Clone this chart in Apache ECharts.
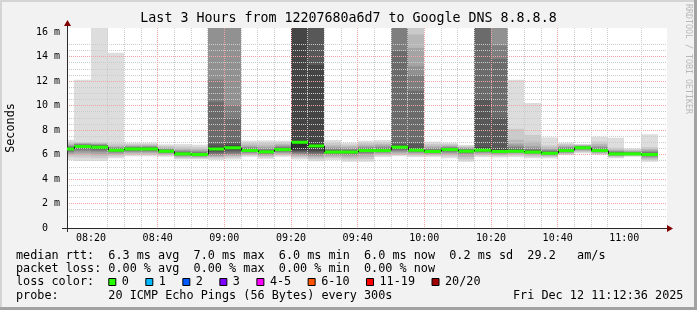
<!DOCTYPE html>
<html><head><meta charset="utf-8">
<script src="https://cdn.jsdelivr.net/npm/echarts@6/dist/echarts.min.js"></script>
<style>html,body{margin:0;padding:0;background:#f2f2f2}#c{width:697px;height:310px}</style>
</head><body><div id="c"></div>
<script>
// ---------------- data (ms) ----------------
// end time of each 5-minute step
const intervalEnd = ['08:15','08:20','08:25','08:30','08:35','08:40','08:45','08:50','08:55','09:00',
  '09:05','09:10','09:15','09:20','09:25','09:30','09:35','09:40','09:45','09:50','09:55','10:00',
  '10:05','10:10','10:15','10:20','10:25','10:30','10:35','10:40','10:45','10:50','10:55','11:00','11:05','11:10'];
// median rtt per step
const median = [6.45,6.65,6.6,6.35,6.45,6.45,6.27,6.05,6.0,6.45,6.55,6.33,6.22,6.4,7.0,6.7,6.2,6.2,6.32,6.32,
  6.6,6.35,6.25,6.4,6.27,6.35,6.25,6.27,6.2,6.1,6.32,6.55,6.32,6.05,6.05,6.0];
// the 20 sorted ping times of each step (smoke)
const s0815 = [5.55,5.8,5.95,6.05,6.15,6.22,6.3,6.35,6.4,6.43,6.47,6.5,6.55,6.6,6.65,6.7,6.78,6.85,7.0,7.2];
const s0820 = [5.47,5.75,5.95,6.1,6.25,6.35,6.45,6.52,6.58,6.63,6.67,6.7,6.74,6.78,6.82,6.86,6.9,6.95,7.0,12.1];
const s0825 = [5.47,5.7,5.9,6.05,6.2,6.3,6.4,6.48,6.54,6.58,6.62,6.66,6.7,6.74,6.78,6.82,6.86,6.92,7.0,17];
const s0830 = [5.7,5.85,5.97,6.07,6.15,6.2,6.25,6.29,6.32,6.34,6.37,6.4,6.44,6.48,6.52,6.57,6.63,6.72,6.9,14.3];
const s0835 = [5.85,5.98,6.08,6.16,6.23,6.29,6.34,6.38,6.41,6.44,6.47,6.5,6.53,6.56,6.6,6.64,6.69,6.76,6.85,6.96];
const s0840 = [5.85,5.98,6.08,6.16,6.23,6.29,6.34,6.38,6.41,6.44,6.47,6.5,6.53,6.57,6.61,6.65,6.7,6.77,6.86,6.96];
const s0845 = [5.82,5.92,6.0,6.07,6.12,6.16,6.2,6.23,6.25,6.26,6.28,6.31,6.34,6.37,6.41,6.45,6.5,6.58,6.7,6.83];
const s0850 = [5.6,5.7,5.78,5.85,5.9,5.95,5.98,6.01,6.03,6.04,6.06,6.09,6.13,6.18,6.23,6.3,6.38,6.48,6.65,6.85];
const s0855 = [5.6,5.68,5.75,5.81,5.86,5.9,5.93,5.96,5.98,5.99,6.01,6.04,6.08,6.13,6.19,6.26,6.34,6.45,6.6,6.8];
const s0900 = [5.55,5.7,5.8,5.88,5.95,6.02,6.1,6.2,6.3,6.4,6.5,6.65,6.85,10.3,12.1,17,17,17,17,17];
const s0905 = [5.6,5.75,5.85,5.93,6.0,6.08,6.18,6.3,6.42,6.52,6.6,6.75,6.95,9.0,10.0,17,17,17,17,17];
const s0910 = [5.82,5.92,6.0,6.08,6.14,6.2,6.25,6.28,6.3,6.32,6.35,6.38,6.42,6.47,6.53,6.6,6.68,6.8,6.95,7.13];
const s0915 = [5.65,5.78,5.88,5.96,6.03,6.09,6.14,6.17,6.2,6.21,6.24,6.27,6.31,6.36,6.42,6.5,6.6,6.75,6.95,7.15];
const s0920 = [5.82,5.93,6.03,6.11,6.18,6.24,6.29,6.33,6.37,6.39,6.42,6.45,6.49,6.54,6.6,6.67,6.75,6.85,6.98,7.13];
const s0925 = [5.6,5.75,5.85,5.95,6.03,6.1,6.18,6.25,6.32,6.4,7.05,17,17,17,17,17,17,17,17,17];
const s0930 = [5.45,5.62,5.75,5.85,5.95,6.03,6.1,6.18,6.3,6.55,6.85,13.3,17,17,17,17,17,17,17,17];
const s0935 = [5.55,5.7,5.82,5.92,6.0,6.06,6.11,6.15,6.18,6.19,6.22,6.25,6.3,6.36,6.43,6.52,6.62,6.76,6.95,7.18];
const s0940 = [5.41,5.6,5.75,5.87,5.97,6.05,6.11,6.15,6.18,6.19,6.22,6.25,6.29,6.34,6.4,6.47,6.56,6.67,6.8,6.96];
const s0945 = [5.41,5.62,5.8,5.95,6.06,6.14,6.2,6.25,6.29,6.31,6.34,6.37,6.41,6.46,6.52,6.59,6.68,6.8,6.95,7.13];
const s0950 = [5.8,5.92,6.02,6.1,6.16,6.21,6.25,6.28,6.3,6.31,6.34,6.37,6.42,6.48,6.55,6.63,6.73,6.85,7.0,7.18];
const s0955 = [5.85,5.97,6.07,6.16,6.24,6.32,6.4,6.47,6.53,6.58,6.63,6.72,6.85,14.45,17,17,17,17,17,17];
const s1000 = [5.8,5.92,6.02,6.1,6.17,6.22,6.27,6.3,6.32,6.34,6.37,6.5,6.9,11.2,12.5,13.2,14.7,15.8,17,17];
const s1005 = [5.8,5.9,5.98,6.05,6.11,6.15,6.19,6.21,6.23,6.24,6.26,6.29,6.33,6.38,6.44,6.51,6.6,6.72,6.87,7.05];
const s1010 = [5.7,5.85,5.98,6.08,6.16,6.23,6.29,6.33,6.37,6.39,6.42,6.45,6.48,6.52,6.56,6.61,6.67,6.75,6.85,6.96];
const s1015 = [5.41,5.6,5.78,5.93,6.05,6.13,6.19,6.23,6.25,6.26,6.29,6.32,6.35,6.39,6.43,6.48,6.54,6.6,6.68,6.78];
const s1020 = [5.8,5.92,6.02,6.1,6.16,6.21,6.25,6.29,6.32,6.34,6.4,6.6,10.5,17,17,17,17,17,17,17];
const s1025 = [5.75,5.87,5.97,6.05,6.11,6.16,6.2,6.22,6.24,6.25,6.3,6.5,9.0,13.8,14.9,17,17,17,17,17];
const s1030 = [5.8,5.92,6.02,6.1,6.16,6.2,6.23,6.25,6.26,6.27,6.3,6.35,6.42,6.5,6.6,6.72,6.88,7.2,8.1,12.1];
const s1035 = [5.69,5.82,5.93,6.01,6.07,6.12,6.15,6.17,6.19,6.2,6.22,6.26,6.31,6.38,6.46,6.56,6.7,7.05,7.6,10.2];
const s1040 = [5.69,5.8,5.88,5.94,5.99,6.03,6.06,6.08,6.09,6.1,6.12,6.15,6.19,6.24,6.3,6.37,6.46,6.58,6.75,7.4];
const s1045 = [5.95,6.02,6.08,6.13,6.18,6.22,6.25,6.28,6.3,6.31,6.34,6.37,6.41,6.46,6.52,6.58,6.65,6.74,6.85,6.96];
const s1050 = [6.1,6.2,6.28,6.35,6.41,6.45,6.49,6.51,6.53,6.54,6.56,6.58,6.6,6.62,6.65,6.68,6.72,6.76,6.8,6.86];
const s1055 = [5.96,6.04,6.1,6.16,6.2,6.24,6.27,6.29,6.3,6.31,6.33,6.36,6.4,6.45,6.52,6.6,6.7,6.85,7.05,7.45];
const s1100 = [5.69,5.78,5.85,5.9,5.94,5.98,6.0,6.02,6.03,6.04,6.06,6.09,6.13,6.18,6.22,6.26,6.32,6.4,6.55,7.37];
const s1105 = [5.82,5.88,5.92,5.96,5.99,6.01,6.02,6.03,6.04,6.04,6.06,6.08,6.1,6.13,6.17,6.21,6.26,6.32,6.4,6.5];
const s1110 = [5.41,5.55,5.66,5.75,5.82,5.88,5.93,5.96,5.98,5.99,6.01,6.04,6.08,6.14,6.2,6.27,6.35,6.45,6.6,7.65];

const xTickLabels = ['08:20','08:40','09:00','09:20','09:40','10:00','10:20','10:40','11:00'];
const yTickValues = [0,2,4,6,8,10,12,14,16];
const rttStats  = ['6.3 ms avg','7.0 ms max','6.0 ms min','6.0 ms now','0.2 ms sd','29.2   am/s'];
const lossStats = ['0.00 % avg','0.00 % max','0.00 % min','0.00 % now'];
const lossLabels = ['0','1','2','3','4-5','6-10','11-19','20/20'];
const lossColors = ['#26ff00','#00b8ff','#0059ff','#7e00ff','#ff00ff','#ff5500','#ff0000','#a10000'];
const titleText = 'Last 3 Hours from 12207680a6d7 to Google DNS 8.8.8.8';
const probeText = '20 ICMP Echo Pings (56 Bytes) every 300s';
const stampText = 'Fri Dec 12 11:12:36 2025';

// ---------------- build ----------------
const smoke = [s0815,s0820,s0825,s0830,s0835,s0840,s0845,s0850,s0855,s0900,s0905,s0910,s0915,s0920,
  s0925,s0930,s0935,s0940,s0945,s0950,s0955,s1000,s1005,s1010,s1015,s1020,s1025,s1030,s1035,s1040,
  s1045,s1050,s1055,s1100,s1105,s1110];
function toMin(s){const p=s.split(':');return (+p[0])*60+(+p[1]);}
function fmt(v){const h=Math.floor(v/60),m=Math.round(v-h*60);return String(h).padStart(2,'0')+':'+String(m).padStart(2,'0');}
const xMin = toMin('08:12')+0.8, xMax = xMin+180, yMax = 16.33;
const STEP = 5;
const majorX = xTickLabels.map(toMin);
const minorX = [];
for (let t = toMin(intervalEnd[0]); t <= toMin(intervalEnd[intervalEnd.length-1]); t += STEP) if (majorX.indexOf(t) < 0) minorX.push(t);
const minorY = [];
for (let v = 0.5; v <= 16; v += 0.5) if (yTickValues.indexOf(v) < 0) minorY.push(v);

const smokeData = intervalEnd.map((t,i) => [toMin(t)-STEP, toMin(t)].concat(smoke[i]));
const medData = intervalEnd.map((t,i) => [toMin(t)-STEP, toMin(t), median[i], i>0 ? median[i-1] : -1]);

const FONT = '"DejaVu Sans Mono", "Liberation Mono", monospace';
const chart = echarts.init(document.getElementById('c'), null, {renderer:'canvas'});

function renderSmoke(params, api) {
  const cs = params.coordSys;
  const left = Math.max(Math.round(api.coord([api.value(0), 0])[0]), cs.x);
  const right = Math.min(Math.round(api.coord([api.value(1), 0])[0]), cs.x + cs.width);
  const children = [];
  for (let k = 1; k <= 10; k++) {
    const lo = api.value(1 + k), hi = api.value(22 - k);
    const yLo = api.coord([0, Math.min(lo, yMax)])[1];
    const yHi = api.coord([0, Math.min(hi, yMax)])[1];
    const g = Math.floor(190 / 10 * (10 - k)) + 50;
    children.push({type:'rect', shape:{x:left, y:yHi, width:right-left, height:Math.max(yLo-yHi,0)},
      style:{fill:'rgb('+g+','+g+','+g+')'}});
  }
  return {type:'group', children};
}
function renderMedian(params, api) {
  const cs = params.coordSys;
  const left = Math.max(Math.round(api.coord([api.value(0), 0])[0]), cs.x);
  const right = Math.min(Math.round(api.coord([api.value(1), 0])[0]), cs.x + cs.width);
  const y = api.coord([0, api.value(2)])[1];
  const children = [{type:'rect', shape:{x:left, y:y-1.5, width:right-left, height:3}, style:{fill:lossColors[0]}}];
  const prev = api.value(3);
  if (prev > 0) {
    const yp = api.coord([0, prev])[1];
    if (Math.abs(yp - y) > 0.5) children.push({type:'line', shape:{x1:left+0.5, y1:yp, x2:left+0.5, y2:y},
      style:{stroke:'#202020', lineWidth:1}});
  }
  return {type:'group', children};
}

// legend boxes for loss colours
const legendGraphics = [];
let lx = 108.3;
lossLabels.forEach((lab, i) => {
  legendGraphics.push({type:'rect', shape:{x:lx+0.5, y:278.5, width:7, height:7}, style:{fill:lossColors[i], stroke:'#000', lineWidth:1}});
  legendGraphics.push({type:'text', x:lx+13.5, y:282, style:{text:lab, font:'11.8px '+FONT, fill:'#000', verticalAlign:'middle', align:'left'}});
  lx += 29.9 + lab.length * 7.12;
});

const textLine = (txt, x, y, align) => ({type:'text', x, y, style:{text:txt, font:'11.8px '+FONT, fill:'#000', verticalAlign:'middle', align:align||'left'}});

const option = {
  animation: false,
  backgroundColor: '#f2f2f2',
  title: {text: titleText, left: 'center', top: 12, padding: 0,
    textStyle: {fontFamily: FONT, fontSize: 13.3, fontWeight: 'normal', color: '#000'}},
  grid: {left: 67, right: 30, top: 28, bottom: 82, show: true, backgroundColor: '#fff', borderWidth: 0,
    outerBoundsMode: 'none', containLabel: false},
  xAxis: [
    {type:'value', min:xMin, max:xMax, position:'bottom', z:5,
      axisLine:{show:false}, axisLabel:{show:false},
      axisTick:{show:false, customValues:minorX},
      splitLine:{show:true, showMinLine:false, showMaxLine:false, lineStyle:{color:'#cbcbcb', width:1, type:[1,1]}}},
    {type:'value', min:xMin, max:xMax, position:'bottom', z:6,
      axisLine:{show:true, onZero:false, lineStyle:{color:'#2a2a2a', width:1}},
      axisTick:{show:false, customValues:majorX},
      axisLabel:{customValues:majorX, formatter:fmt, fontFamily:FONT, fontSize:10, color:'#000', margin:5},
      splitLine:{show:true, showMinLine:false, showMaxLine:false, lineStyle:{color:'#f0a3a3', width:1, type:[1,1]}}}
  ],
  yAxis: [
    {type:'value', min:0, max:yMax, position:'left', z:5,
      axisLine:{show:false}, axisLabel:{show:false},
      axisTick:{show:false, customValues:minorY},
      splitLine:{show:true, showMinLine:false, showMaxLine:false, lineStyle:{color:'#cbcbcb', width:1, type:[1,1]}}},
    {type:'value', min:0, max:yMax, position:'left', z:6,
      name:'Seconds', nameLocation:'middle', nameGap:50,
      nameTextStyle:{fontFamily:FONT, fontSize:11.8, color:'#000'},
      axisLine:{show:true, onZero:false, lineStyle:{color:'#2a2a2a', width:1}},
      axisTick:{show:false, customValues:yTickValues},
      axisLabel:{customValues:yTickValues, formatter:v => v === 0 ? '0  ' : v + ' m', fontFamily:FONT, fontSize:10, color:'#000', margin:7},
      splitLine:{show:true, showMinLine:false, showMaxLine:false, lineStyle:{color:'#f0a3a3', width:1, type:[1,1]}}}
  ],
  series: [
    {type:'custom', name:'smoke', xAxisIndex:0, yAxisIndex:0, z:2, silent:true,
      encode:{x:[0,1], y:[2]}, renderItem:renderSmoke, data:smokeData},
    {type:'custom', name:'median', xAxisIndex:0, yAxisIndex:0, z:10, silent:true,
      encode:{x:[0,1], y:[2]}, renderItem:renderMedian, data:medData}
  ],
  graphic: [
    // frame shading
    {type:'rect', shape:{x:0, y:0, width:697, height:2}, style:{fill:'#d4d4d4'}, silent:true},
    {type:'rect', shape:{x:0, y:0, width:2, height:310}, style:{fill:'#d4d4d4'}, silent:true},
    {type:'rect', shape:{x:694, y:0, width:3, height:310}, style:{fill:'#a2a2a2'}, silent:true},
    {type:'rect', shape:{x:0, y:307, width:697, height:3}, style:{fill:'#a2a2a2'}, silent:true},
    // axis extensions and arrows
    {type:'line', shape:{x1:62, y1:228.5, x2:67, y2:228.5}, style:{stroke:'#2a2a2a', lineWidth:1}, z:20},
    {type:'line', shape:{x1:67.5, y1:228, x2:67.5, y2:232}, style:{stroke:'#2a2a2a', lineWidth:1}, z:20},
    {type:'line', shape:{x1:67.5, y1:28, x2:67.5, y2:24}, style:{stroke:'#2a2a2a', lineWidth:1}, z:20},
    {type:'polygon', shape:{points:[[64,26],[71,26],[67.5,20]]}, style:{fill:'#7f0000'}, z:20},
    {type:'polygon', shape:{points:[[667,225],[667,232],[673,228.5]]}, style:{fill:'#7f0000'}, z:20},
    // watermark
    {type:'text', x:688, y:59, rotation:-Math.PI/2, style:{text:'RRDTOOL / TOBI OETIKER', font:'8.3px '+FONT, fill:'#b8b8b8', align:'center', verticalAlign:'middle'}},
    // legend lines
    textLine('median rtt:  ' + rttStats.join('  '), 16, 255.5),
    textLine('packet loss: ' + lossStats.join('  '), 16, 269),
    textLine('loss color:', 16, 282),
    textLine('probe:       ' + probeText, 16, 296),
    textLine(stampText, 513, 296)
  ].concat(legendGraphics)
};
chart.setOption(option);
</script>
</body></html>
